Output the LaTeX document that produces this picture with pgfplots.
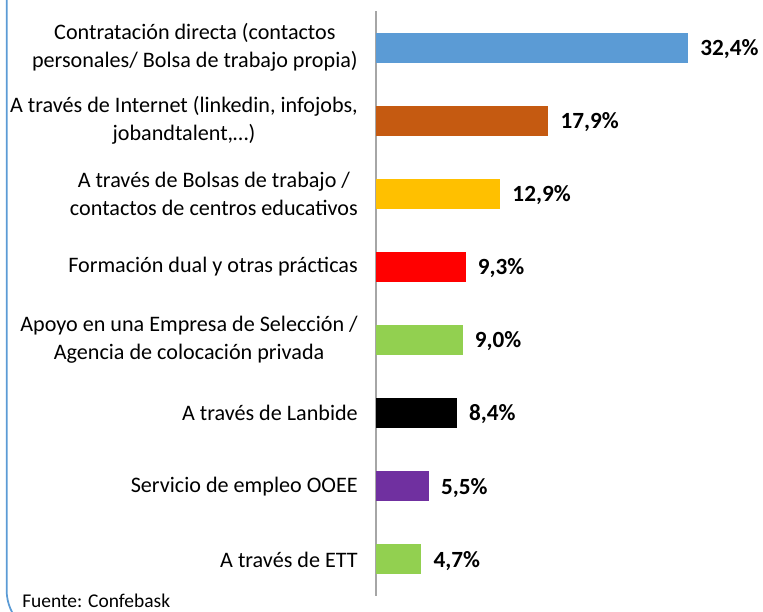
\documentclass[border=0pt]{standalone}
\usepackage{pgfplots}
\pgfplotsset{compat=1.18}
\usepackage{fontspec}
\setmainfont{Carlito}
\definecolor{c1}{HTML}{5B9BD5}
\definecolor{c2}{HTML}{C55A11}
\definecolor{c3}{HTML}{FFC000}
\definecolor{c4}{HTML}{FF0000}
\definecolor{c5}{HTML}{92D050}
\definecolor{c6}{HTML}{000000}
\definecolor{c7}{HTML}{7030A0}
\definecolor{c8}{HTML}{92D050}
\definecolor{frame}{HTML}{5B9BD5}
\definecolor{axgray}{HTML}{A6A6A6}
\begin{document}
\begin{tikzpicture}
\useasboundingbox (0,0) rectangle (572.25pt,458.25pt);
% chart area border (rounded corner at bottom left)
\draw[frame, line width=1.3pt, rounded corners=35pt] (5pt,470pt) -- (5pt,-19.5pt) -- (90pt,-19.5pt);
\begin{axis}[
  at={(282pt,11.25pt)}, anchor=south west,
  scale only axis,
  width=288.9pt, height=438.75pt,
  xmin=0, xmax=40,
  ymin=-0.5, ymax=7.5,
  y dir=reverse,
  axis x line=none,
  axis y line*=left,
  y axis line style={axgray, line width=1.5pt, -},
  ytick={0,...,7},
  major tick length=0pt,
  yticklabels={{Contratación directa (contactos\\personales/ Bolsa de trabajo propia)},
    {A través de Internet (linkedin, infojobs,\\jobandtalent,…)},
    {A través de Bolsas de trabajo /\\contactos de centros educativos},
    {Formación dual y otras prácticas},
    {Apoyo en una Empresa de Selección /\\Agencia de colocación privada},
    {A través de Lanbide},
    {Servicio de empleo OOEE},
    {A través de ETT}},
  yticklabel style={align=center, anchor=east, inner sep=0pt, xshift=-13.5pt,
    font=\fontsize{16.6}{21}\selectfont},
  xbar, bar width=22.5pt, bar shift=0pt,
  clip=false,
  point meta=x,
  /pgf/number format/assume math mode=true,
  nodes near coords={\pgfmathprintnumber[fixed,fixed zerofill,precision=1,use comma,assume math mode=true]{\pgfplotspointmeta}\%},
  nodes near coords style={anchor=west, inner sep=0pt, xshift=9pt, yshift=-1pt,
    font=\bfseries\fontsize{17.4}{20}\selectfont, text=black},
]
\addplot[fill=c1, draw=none] coordinates {(32.4,0)};
\addplot[fill=c2, draw=none] coordinates {(17.9,1)};
\addplot[fill=c3, draw=none] coordinates {(12.9,2)};
\addplot[fill=c4, draw=none] coordinates {(9.3,3)};
\addplot[fill=c5, draw=none] coordinates {(9.0,4)};
\addplot[fill=c6, draw=none] coordinates {(8.4,5)};
\addplot[fill=c7, draw=none] coordinates {(5.5,6)};
\addplot[fill=c8, draw=none] coordinates {(4.7,7)};
\end{axis}
\node[anchor=base west, inner sep=0pt, font=\fontsize{14.6}{17}\selectfont] at (16.5pt,2.6pt) {Fuente: Confebask};
\end{tikzpicture}
\end{document}
